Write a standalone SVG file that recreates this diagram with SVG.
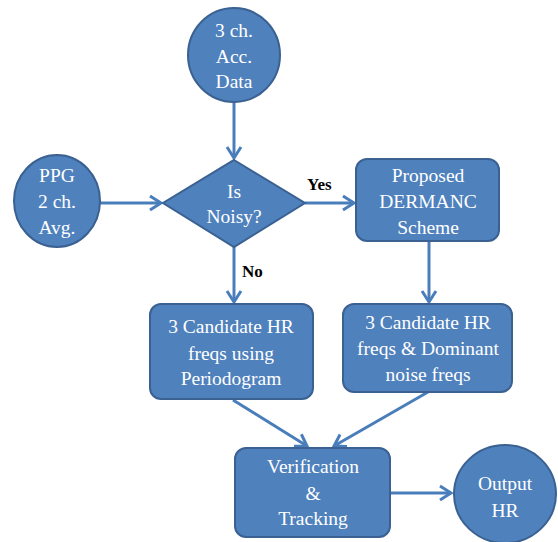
<svg xmlns="http://www.w3.org/2000/svg" width="558" height="542" viewBox="0 0 558 542">
<style>
.n{fill:#4F81BD;stroke:#3A6191;stroke-width:2}
.t{font-size:19.5px;fill:#fff;text-anchor:middle}
.l{font-size:17px;font-weight:bold;fill:#000}
.c{fill:none;stroke:#4A7EBB;stroke-width:3}
</style>
<defs>
<marker id="a" markerUnits="userSpaceOnUse" markerWidth="16" markerHeight="18" refX="12" refY="8" orient="auto" viewBox="0 0 16 16">
<path d="M1,1 L12,8 L1,15" fill="none" stroke="#4A7EBB" stroke-width="3" stroke-linejoin="miter"/>
</marker>
</defs>
<g id="connectors">
<line class="c" x1="234" y1="102" x2="234" y2="158" marker-end="url(#a)"/>
<line class="c" x1="100" y1="203" x2="161" y2="203" marker-end="url(#a)"/>
<line class="c" x1="305" y1="203" x2="354" y2="203" marker-end="url(#a)"/>
<line class="c" x1="234" y1="247" x2="234" y2="302" marker-end="url(#a)"/>
<line class="c" x1="429" y1="241" x2="429" y2="302" marker-end="url(#a)"/>
<line class="c" x1="233" y1="400" x2="307" y2="446" marker-end="url(#a)"/>
<line class="c" x1="428" y1="392" x2="334" y2="446" marker-end="url(#a)"/>
<line class="c" x1="390" y1="493" x2="451" y2="493" marker-end="url(#a)"/>
</g>
<g font-family="Liberation Serif, Times New Roman, serif">
<g id="acc">
<ellipse class="n" cx="234" cy="55" rx="46" ry="47"/>
<text class="t" x="234" y="37">3 ch.</text>
<text class="t" x="234" y="63">Acc.</text>
<text class="t" x="234" y="88">Data</text>
</g>
<g id="ppg">
<ellipse class="n" cx="57" cy="201" rx="43" ry="46"/>
<text class="t" x="57" y="182">PPG</text>
<text class="t" x="57" y="208">2 ch.</text>
<text class="t" x="57" y="234">Avg.</text>
</g>
<g id="noisy">
<polygon class="n" points="234,160 305,203 234,247 163,203"/>
<text class="t" x="234" y="198">Is</text>
<text class="t" x="234" y="223">Noisy?</text>
</g>
<g id="labels">
<text class="l" x="307" y="190">Yes</text>
<text class="l" x="242" y="277">No</text>
</g>
<g id="dermanc">
<rect class="n" x="356" y="159" width="143" height="82" rx="11"/>
<text class="t" x="428" y="182">Proposed</text>
<text class="t" x="428" y="208">DERMANC</text>
<text class="t" x="428" y="234">Scheme</text>
</g>
<g id="periodogram">
<rect class="n" x="150" y="304" width="163" height="95" rx="11"/>
<text class="t" x="231" y="333">3 Candidate HR</text>
<text class="t" x="231" y="360">freqs using</text>
<text class="t" x="231" y="385">Periodogram</text>
</g>
<g id="dominant">
<rect class="n" x="343" y="304" width="169" height="88" rx="11"/>
<text class="t" x="428" y="329">3 Candidate HR</text>
<text class="t" x="428" y="355">freqs &amp; Dominant</text>
<text class="t" x="428" y="381">noise freqs</text>
</g>
<g id="verification">
<rect class="n" x="235" y="448" width="155" height="89" rx="11"/>
<text class="t" x="313" y="473">Verification</text>
<text class="t" x="313" y="500">&amp;</text>
<text class="t" x="313" y="525">Tracking</text>
</g>
<g id="output">
<ellipse class="n" cx="505" cy="494" rx="51" ry="49"/>
<text class="t" x="505" y="490">Output</text>
<text class="t" x="505" y="517">HR</text>
</g>
</g>
</svg>
